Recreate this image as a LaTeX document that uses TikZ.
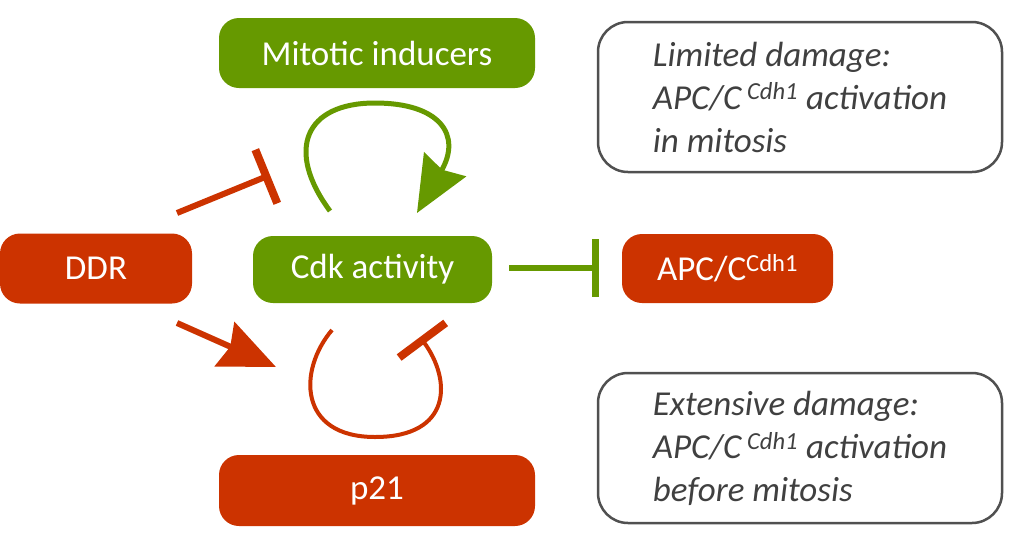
\documentclass[tikz,border=0pt]{standalone}
\usepackage{fontspec}
\setmainfont{Carlito}
\usetikzlibrary{arrows.meta}
\definecolor{cgreen}{RGB}{102,153,0}
\definecolor{cred}{RGB}{204,51,0}
\definecolor{cborder}{RGB}{80,80,80}
\definecolor{ctext}{RGB}{64,64,64}
\begin{document}
\begin{tikzpicture}[x=1pt,y=-1pt,
  pill/.style={rounded corners=20pt, text=white, inner sep=0pt,
    font=\fontsize{35}{42}\selectfont},
  greenpill/.style={pill, fill=cgreen},
  redpill/.style={pill, fill=cred},
  note/.style={draw=cborder, line width=2.5pt, rounded corners=30pt,
    minimum width=404pt, minimum height=150pt, inner sep=0pt, align=left,
    text=ctext, font=\fontsize{35}{43}\selectfont\itshape},
  actline/.style={line width=6pt},
  greenact/.style={actline, draw=cgreen, -{Stealth[length=56pt, width=48pt, inset=6pt]}},
  redact/.style={actline, draw=cred, -{Stealth[length=56pt, width=48pt, inset=6pt]}},
  greeninh/.style={actline, draw=cgreen, -{Bar[width=58pt, line width=7pt]}},
  redinh/.style={actline, draw=cred, -{Bar[width=58pt, line width=8pt]}},
  redloop/.style={line width=4pt, draw=cred, -{Bar[width=58pt, line width=8pt]}},
  greenloop/.style={line width=5pt, draw=cgreen, -{Stealth[length=56pt, width=48pt, inset=6pt]}},
]
\useasboundingbox (0,0) rectangle (1020,544);

\node[greenpill, minimum width=316pt, minimum height=70pt] (mit) at (377,53) {Mitotic inducers};
\node[greenpill, minimum width=239pt, minimum height=67pt] (cdk) at (372.5,269.5) {Cdk activity};
\node[redpill, minimum width=192pt, minimum height=70pt] (ddr) at (96,268.5) {DDR};
\node[redpill, minimum width=316pt, minimum height=71pt] (p21) at (377,490.5) {p21};
\node[redpill, minimum width=211pt, minimum height=69pt] (apc) at (727.5,268.5) {APC/C\textsuperscript{Cdh1}};

\node[note] (lim) at (800,97) {Limited damage:\\APC/C\,\textsuperscript{Cdh1} activation\\in mitosis};
\node[note] (ext) at (800,448) {Extensive damage:\\APC/C\,\textsuperscript{Cdh1} activation\\before mitosis};

% free ends of the connectors
\coordinate (ddrA) at (177,213);
\coordinate (ddrAend) at (270,175);
\coordinate (ddrB) at (177,323);
\coordinate (ddrBend) at (276,367);
\coordinate (cdkR) at (509,268);
\coordinate (cdkRend) at (599,268);
\coordinate (gl0) at (330,211);
\coordinate (gl1) at (375,103);
\coordinate (gl2) at (417,213);
\coordinate (rl0) at (332,330);
\coordinate (rl1) at (375,437);
\coordinate (rl2) at (420,337);

\draw[redinh] (ddrA) -- (ddrAend);
\draw[redact] (ddrB) -- (ddrBend);
\draw[greeninh] (cdkR) -- (cdkRend);
\draw[greenloop] (gl0) .. controls (285,150) and (305,103) .. (gl1)
  .. controls (440,103) and (462,135) .. (gl2);
\draw[redloop] (rl0) .. controls (298,370) and (298,437) .. (rl1)
  .. controls (452,437) and (452,380) .. (rl2);
\end{tikzpicture}
\end{document}
